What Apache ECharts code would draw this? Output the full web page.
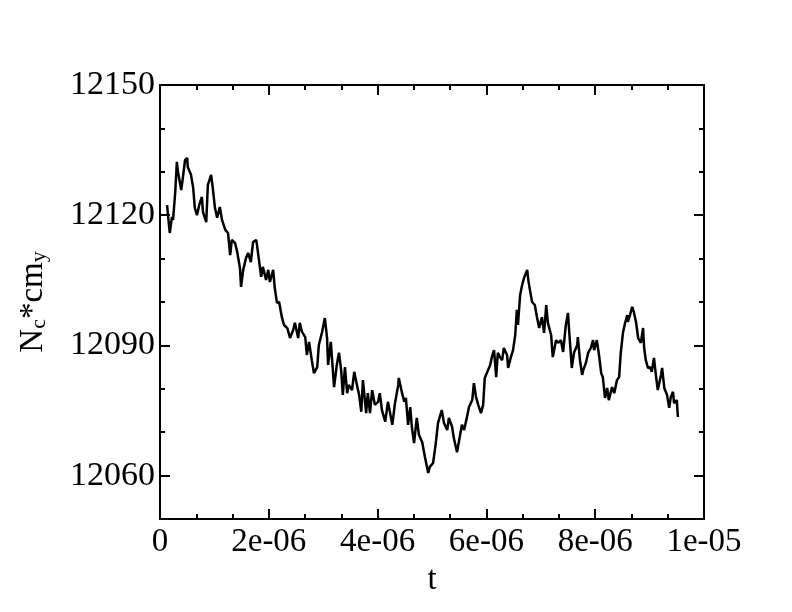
<!DOCTYPE html>
<html>
<head>
<meta charset="utf-8">
<script src="https://cdn.jsdelivr.net/npm/echarts@6/dist/echarts.min.js"></script>
<style>html,body{margin:0;padding:0;background:#fff}#c{width:792px;height:612px}</style>
</head>
<body>
<div id="c"></div>
<script>
// time in units of 1e-6
var tMicro = [0.13,0.15,0.18,0.22,0.24,0.28,0.31,0.33,0.39,0.42,0.46,0.50,0.51,0.57,0.61,0.64,0.68,0.72,0.77,0.79,
0.85,0.88,0.94,0.97,1.01,1.05,1.10,1.14,1.20,1.25,1.29,1.32,1.38,1.42,1.47,1.49,1.53,1.58,1.62,1.67,
1.71,1.77,1.80,1.86,1.89,1.95,1.99,2.02,2.08,2.11,2.15,2.19,2.24,2.28,2.34,2.39,2.45,2.48,2.54,2.57,
2.61,2.67,2.70,2.74,2.79,2.83,2.89,2.92,2.98,3.03,3.07,3.09,3.14,3.16,3.20,3.25,3.29,3.33,3.36,3.40,
3.44,3.47,3.53,3.57,3.62,3.66,3.70,3.73,3.79,3.82,3.86,3.90,3.95,4.01,4.04,4.08,4.14,4.19,4.23,4.27,
4.32,4.38,4.39,4.45,4.49,4.52,4.56,4.60,4.63,4.67,4.72,4.76,4.82,4.87,4.93,4.96,5.02,5.07,5.11,5.18,
5.22,5.28,5.31,5.37,5.40,5.46,5.50,5.55,5.59,5.64,5.68,5.74,5.77,5.81,5.85,5.90,5.94,5.97,6.03,6.07,
6.10,6.14,6.18,6.21,6.25,6.29,6.32,6.38,6.40,6.45,6.49,6.53,6.56,6.58,6.62,6.65,6.69,6.75,6.77,6.80,
6.84,6.89,6.93,6.97,7.02,7.06,7.10,7.13,7.19,7.22,7.28,7.32,7.37,7.41,7.46,7.50,7.52,7.57,7.61,7.67,
7.68,7.72,7.76,7.78,7.83,7.87,7.92,7.96,7.98,8.03,8.07,8.11,8.14,8.18,8.22,8.25,8.31,8.35,8.40,8.44,
8.47,8.51,8.55,8.59,8.60,8.64,8.68,8.71,8.75,8.79,8.84,8.88,8.90,8.93,8.97,9.01,9.04,9.08,9.12,9.15,
9.21,9.23,9.27,9.32,9.36,9.39,9.43,9.45,9.50,9.52];
var ncCmy = [12122.3,12119.6,12115.9,12119.6,12118.9,12125.3,12132.3,12130.0,12125.8,12128.6,12132.7,12133.2,12131.1,12129.3,12126.3,12121.7,12120.0,12122.3,12124.2,12120.7,
12118.4,12127.0,12129.3,12126.3,12121.7,12119.4,12121.9,12118.9,12116.6,12115.9,12110.8,12114.3,12113.6,12111.5,12107.8,12103.5,12107.4,12110.1,12111.3,12109.2,
12113.8,12114.3,12111.5,12105.8,12108.1,12105.1,12107.4,12104.6,12107.4,12103.2,12099.8,12100.0,12096.5,12094.7,12094.0,12091.7,12093.6,12095.2,12091.7,12095.2,
12093.1,12091.9,12087.8,12090.8,12086.6,12083.6,12085.0,12090.1,12093.1,12096.3,12091.9,12085.5,12090.8,12087.3,12080.4,12085.5,12088.3,12084.3,12078.6,12085.0,
12079.0,12080.9,12079.7,12083.9,12080.9,12078.6,12074.7,12082.0,12074.4,12079.0,12074.4,12079.7,12076.3,12077.0,12079.0,12075.1,12072.4,12077.0,12074.4,12071.7,
12076.7,12080.9,12082.5,12079.0,12077.0,12077.9,12071.7,12075.8,12071.2,12067.5,12073.3,12069.4,12067.7,12064.3,12060.6,12062.0,12062.9,12067.5,12072.1,12075.1,
12072.1,12070.5,12073.3,12071.2,12068.7,12065.4,12068.2,12071.7,12070.5,12073.3,12075.8,12077.4,12081.3,12078.1,12076.3,12074.4,12076.3,12082.5,12084.3,12085.5,
12087.3,12088.9,12082.7,12088.3,12087.3,12086.6,12089.4,12087.8,12084.8,12087.3,12088.9,12092.4,12098.2,12094.7,12101.6,12103.5,12105.5,12107.4,12105.1,12102.8,
12100.0,12099.3,12096.5,12094.0,12096.5,12092.9,12099.3,12095.2,12092.4,12087.3,12091.2,12090.6,12091.2,12088.5,12094.7,12097.5,12093.6,12084.8,12088.3,12090.1,
12091.9,12086.6,12083.2,12084.3,12086.0,12088.3,12089.4,12091.2,12088.9,12091.2,12087.8,12083.6,12082.7,12077.9,12080.2,12077.4,12080.4,12079.0,12082.0,12082.7,
12088.3,12092.9,12095.2,12097.0,12095.4,12097.0,12098.9,12097.7,12095.4,12091.7,12090.6,12094.0,12089.4,12086.6,12084.8,12085.0,12083.9,12087.1,12082.7,12079.7,
12083.2,12084.8,12080.2,12078.6,12075.6,12078.1,12079.3,12076.7,12077.4,12073.5];

var xMajorTicks = [0, 2, 4, 6, 8, 10];
var xTickLabels = ['0','2e-06','4e-06','6e-06','8e-06','1e-05'];
var xMinorTicks = [0.6667, 1.3333, 2.6667, 3.3333, 4.6667, 5.3333, 6.6667, 7.3333, 8.6667, 9.3333];
var yMajorTicks = [12060, 12090, 12120, 12150];
var yTickLabels = ['12060','12090','12120','12150'];
var yMinorTicks = [12070, 12080, 12100, 12110, 12130, 12140];

var pts = tMicro.map(function(t,i){return [t, ncCmy[i]];});
var FONT = 'Liberation Serif';
function lineS(show){ return {show:show, onZero:false, lineStyle:{color:'#000', width:2}}; }
function ticks(vals, len){ return {show:true, inside:true, length:len, customValues:vals, lineStyle:{color:'#000', width:2}}; }
function xLab(v){ var i = xMajorTicks.indexOf(Math.round(v)); return i>=0 ? xTickLabels[i] : ''; }
function yLab(v){ var i = yMajorTicks.indexOf(Math.round(v)); return i>=0 ? yTickLabels[i] : ''; }

function xAx(pos, major, withLabel, withName){
  var a = {type:'value', min:0, max:10, position:pos, splitLine:{show:false},
    axisLine:lineS(major), axisTick:ticks(major ? xMajorTicks : xMinorTicks, major ? 10 : 5),
    axisLabel:{show:false}};
  if (withLabel) a.axisLabel = {show:true, customValues:xMajorTicks, formatter:xLab, color:'#000', fontFamily:FONT, fontSize:33, margin:7};
  if (withName) { a.name='t'; a.nameLocation='middle'; a.nameGap=31; a.nameTextStyle={color:'#000', fontFamily:FONT, fontSize:33}; }
  return a;
}
function yAx(pos, major, withLabel, withName){
  var a = {type:'value', min:12050, max:12150, position:pos, splitLine:{show:false},
    axisLine:lineS(major), axisTick:ticks(major ? yMajorTicks : yMinorTicks, major ? 10 : 5),
    axisLabel:{show:false}};
  if (withLabel) a.axisLabel = {show:true, customValues:yMajorTicks, formatter:yLab, color:'#000', fontFamily:FONT, fontSize:34, margin:5};
  if (withName) {
    a.name='{n|N}{s|c}{n|*cm}{s|y}'; a.nameLocation='middle'; a.nameGap=110; a.nameRotate=90;
    a.nameTextStyle={color:'#000', fontFamily:FONT, fontSize:33,
      rich:{n:{fontFamily:FONT, fontSize:33, color:'#000', verticalAlign:'bottom', lineHeight:40},
            s:{fontFamily:FONT, fontSize:22, color:'#000', verticalAlign:'bottom', lineHeight:24}}};
  }
  return a;
}

var chart = echarts.init(document.getElementById('c'), null, {renderer:'canvas'});
chart.setOption({
  animation:false,
  backgroundColor:'#fff',
  grid:{left:160, right:88, top:85, bottom:93, containLabel:false},
  xAxis:[xAx('bottom', true, true, true), xAx('top', true, false, false), xAx('bottom', false, false, false), xAx('top', false, false, false)],
  yAxis:[yAx('left', true, true, true), yAx('right', true, false, false), yAx('left', false, false, false), yAx('right', false, false, false)],
  series:[{
    type:'line', data:pts, xAxisIndex:0, yAxisIndex:0,
    showSymbol:false, symbol:'none', smooth:false,
    lineStyle:{color:'#000', width:2.5}
  }]
});
</script>
</body>
</html>
